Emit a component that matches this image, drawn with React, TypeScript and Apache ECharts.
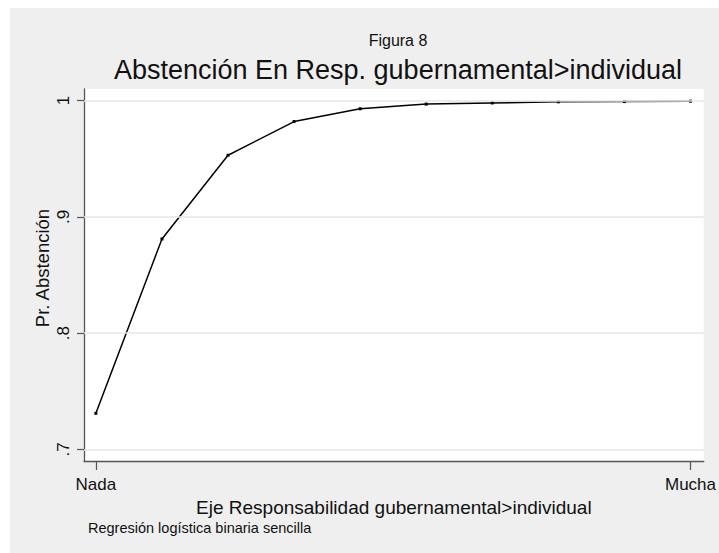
import React, { useEffect, useRef } from "react";
import * as echarts from "echarts";

const levels: number[] = [1, 2, 3, 4, 5, 6, 7, 8, 9, 10];
const probAbstencion: number[] = [0.731, 0.881, 0.953, 0.982, 0.993, 0.997, 0.998, 0.999, 0.9992, 0.9995];
const xTickValues: number[] = [1, 10];
const xTickLabels: string[] = ["Nada", "Mucha"];
const yTickValues: number[] = [0.7, 0.8, 0.9, 1];
const yTickLabels: string[] = [".7", ".8", ".9", "1"];

const supTitle = "Figura 8";
const mainTitle = "Abstención En Resp. gubernamental>individual";
const xTitle = "Eje Responsabilidad gubernamental>individual";
const yTitle = "Pr. Abstención";
const note = "Regresión logística binaria sencilla";

const FONT = "'Liberation Sans', Arial, Helvetica, sans-serif";

export default function App() {
  const ref = useRef<HTMLDivElement>(null);
  useEffect(() => {
    if (!ref.current) return;
    const chart = echarts.init(ref.current, undefined, { renderer: "svg" });
    const option: any = {
      animation: false,
      backgroundColor: "#ffffff",
      textStyle: { fontFamily: FONT },
      graphic: [
        { type: "rect", z: -10, silent: true, shape: { x: 10, y: 8, width: 709, height: 545 }, style: { fill: "#efefef" } },
        { type: "text", x: 398, y: 40, style: { text: supTitle, fontFamily: FONT, fontSize: 16, fill: "#111", textAlign: "center", textVerticalAlign: "middle" } },
        { type: "text", x: 398, y: 70, style: { text: mainTitle, fontFamily: FONT, fontSize: 27, fill: "#111", textAlign: "center", textVerticalAlign: "middle" } },
        { type: "text", x: 42, y: 268, rotation: Math.PI / 2, style: { text: yTitle, fontFamily: FONT, fontSize: 18.5, fill: "#111", textAlign: "center", textVerticalAlign: "middle" } },
        { type: "text", x: 88, y: 528, style: { text: note, fontFamily: FONT, fontSize: 14.5, fill: "#111", textAlign: "left", textVerticalAlign: "middle" } },
      ],
      grid: { left: 84, top: 89, width: 621, height: 372, show: true, backgroundColor: "#ffffff", borderWidth: 0, borderColor: "transparent", containLabel: false },
      xAxis: {
        type: "value",
        min: 0.82,
        max: 10.2,
        name: xTitle,
        nameLocation: "middle",
        nameGap: 35,
        nameTextStyle: { fontFamily: FONT, fontSize: 19, color: "#111" },
        axisLine: { show: true, onZero: false, lineStyle: { color: "#555", width: 1.3 } },
        axisTick: { show: true, length: 9, customValues: xTickValues, lineStyle: { color: "#555", width: 1.2 } },
        axisLabel: {
          show: true,
          customValues: xTickValues,
          margin: 15,
          fontFamily: FONT,
          fontSize: 17,
          color: "#111",
          formatter: (v: number) => {
            const i = xTickValues.findIndex((t) => Math.abs(t - v) < 1e-6);
            return i >= 0 ? xTickLabels[i] : "";
          },
        },
        splitLine: { show: false },
      },
      yAxis: {
        type: "value",
        min: 0.69,
        max: 1.01,
        axisLine: { show: true, onZero: false, lineStyle: { color: "#555", width: 1.3 } },
        axisTick: { show: true, length: 7, customValues: yTickValues, lineStyle: { color: "#555", width: 1.2 } },
        axisLabel: {
          show: true,
          customValues: yTickValues,
          rotate: 90,
          margin: 12,
          fontFamily: FONT,
          fontSize: 17,
          color: "#111",
          formatter: (v: number) => {
            const i = yTickValues.findIndex((t) => Math.abs(t - v) < 1e-6);
            return i >= 0 ? yTickLabels[i] : "";
          },
        },
        splitLine: { show: false },
      },
      series: [
        {
          type: "line",
          z: 1,
          data: [],
          silent: true,
          markLine: {
            silent: true,
            symbol: "none",
            label: { show: false },
            lineStyle: { color: "#e6e6e6", width: 1.5, type: "solid" },
            data: yTickValues.map((v) => ({ yAxis: v })),
          },
        },
        {
          type: "line",
          z: 3,
          data: levels.map((x, i) => [x, probAbstencion[i]]),
          symbol: "rect",
          symbolSize: 3,
          showSymbol: true,
          itemStyle: { color: "#000" },
          lineStyle: { color: "#000", width: 1.5 },
        },
      ],
    };
    chart.setOption(option);
    return () => chart.dispose();
  }, []);
  return <div ref={ref} style={{ position: "absolute", left: 0, top: 0, width: 719, height: 553 }} />;
}
